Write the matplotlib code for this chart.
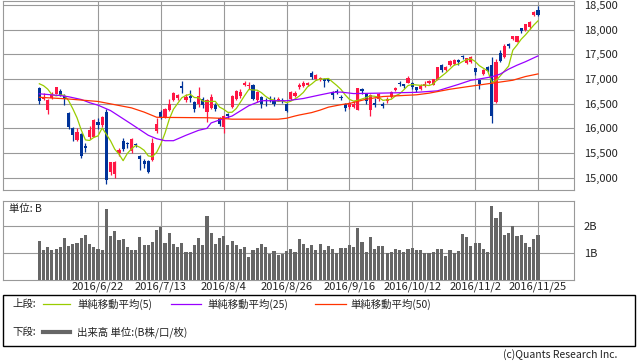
import numpy as np
import pandas as pd
from matplotlib import pyplot as plt
from matplotlib.lines import Line2D
from matplotlib.patches import Rectangle
from matplotlib.ticker import FuncFormatter

plt.rcParams['font.family'] = ['Noto Sans CJK JP', 'DejaVu Sans']

# trading days 2016/6/2 .. 2016/11/25 (120 sessions)
date_pos = [14, 29, 44, 59, 74, 89, 104, 119]
date_labels = ['2016/6/22', '2016/7/13', '2016/8/4', '2016/8/26',
               '2016/9/16', '2016/10/12', '2016/11/2', '2016/11/25']

opens = [16810, 16600, 16380, 16620, 16700, 16760, 16660, 16320, 16000, 15760,
         15880, 15640, 15815, 15830, 16130, 16070, 16340, 15120, 15080, 15505,
         15750, 15700, 15540, 15690, 15440, 15340, 15330, 15350, 15940, 16340,
         16220, 16380, 16580, 16610, 16860, 16570, 16660, 16540, 16500, 16600,
         16340, 16420, 16480, 16210, 16030, 16290, 16440, 16590, 16650, 16875,
         16850, 16880, 16580, 16640, 16580, 16610, 16545, 16580, 16580, 16490,
         16600, 16660, 16835, 16860, 16880, 17130, 17000, 16990, 17000, 17000,
         16740, 16760, 16640, 16500, 16440, 16440, 16380, 16790, 16700, 16380,
         16520, 16600, 16500, 16545, 16630, 16770, 16910, 16890, 16920, 16910,
         16830, 16790, 16850, 16910, 16880, 16990, 17280, 17190, 17275, 17310,
         17380, 17455, 17330, 17335, 17218, 16970, 17100, 17250, 17280, 16540,
         17520, 17440, 17700, 17810, 17760, 18030, 17995, 18060, 18300, 18400]
highs = [16840, 16720, 16590, 16730, 16840, 16800, 16690, 16340, 16020, 16000,
         15900, 15700, 16040, 16190, 16200, 16260, 16390, 15320, 15340, 15600,
         15800, 15720, 15800, 15710, 15460, 15380, 15350, 15810, 16210, 16380,
         16420, 16600, 16730, 16700, 16950, 16700, 16780, 16560, 16830, 16640,
         16600, 16700, 16520, 16230, 16270, 16320, 16670, 16780, 16790, 16950,
         16930, 16890, 16760, 16660, 16620, 16650, 16640, 16630, 16620, 16510,
         16760, 16750, 16920, 16950, 16940, 17160, 17100, 17040, 17020, 17020,
         16760, 16790, 16670, 16510, 16540, 16560, 16820, 16820, 16720, 16700,
         16620, 16720, 16540, 16630, 16760, 16840, 16950, 16900, 17060, 16940,
         16840, 16900, 16950, 16990, 17010, 17250, 17300, 17260, 17390, 17400,
         17400, 17480, 17430, 17460, 17230, 17000, 17200, 17270, 17440, 17400,
         17590, 17700, 17730, 17880, 17880, 18040, 18120, 18170, 18380, 18480]
lows = [16500, 16570, 16300, 16600, 16690, 16660, 16480, 15990, 15740, 15740,
        15400, 15530, 15780, 15820, 15990, 16030, 14864, 15050, 15000, 15440,
        15540, 15600, 15510, 15620, 15160, 15200, 15090, 15330, 15900, 16180,
        16200, 16360, 16560, 16580, 16720, 16540, 16540, 16340, 16440, 16420,
        16130, 16400, 16350, 16050, 15900, 16200, 16420, 16580, 16620, 16860,
        16800, 16570, 16540, 16420, 16460, 16540, 16450, 16550, 16520, 16330,
        16580, 16640, 16800, 16840, 16860, 17010, 16980, 16960, 16840, 16940,
        16600, 16690, 16580, 16350, 16400, 16420, 16370, 16700, 16500, 16260,
        16440, 16560, 16410, 16520, 16610, 16750, 16860, 16810, 16910, 16800,
        16740, 16780, 16840, 16890, 16870, 16980, 17150, 17170, 17260, 17290,
        17280, 17410, 17310, 17320, 17090, 16790, 17080, 17140, 16111, 16520,
        17340, 17420, 17620, 17790, 17740, 17940, 17980, 18020, 18280, 18270]
closes = [16562, 16642, 16580, 16675, 16830, 16668, 16601, 16019, 15859, 15919,
          15434, 15600, 15965, 16169, 16065, 16238, 14952, 15309, 15323, 15566,
          15576, 15682, 15776, 15669, 15379, 15276, 15107, 15709, 16096, 16231,
          16386, 16498, 16723, 16682, 16810, 16627, 16620, 16383, 16665, 16477,
          16569, 16636, 16391, 16083, 16254, 16255, 16651, 16765, 16735, 16920,
          16870, 16597, 16746, 16486, 16546, 16598, 16497, 16597, 16556, 16361,
          16737, 16725, 16887, 16927, 16926, 17038, 17082, 17012, 16959, 16966,
          16673, 16729, 16614, 16405, 16519, 16492, 16808, 16754, 16545, 16684,
          16465, 16694, 16450, 16599, 16736, 16819, 16899, 16860, 17025, 16840,
          16774, 16856, 16900, 16964, 16999, 17236, 17185, 17234, 17365, 17392,
          17336, 17446, 17425, 17442, 17135, 16905, 17177, 17171, 16251, 17344,
          17375, 17673, 17668, 17862, 17863, 17967, 18106, 18163, 18365, 18290]
prior_closes = [16834, 16931, 17235, 16956]

# volume in billions of shares
volume = [1.46, 1.11, 1.23, 1.11, 1.15, 1.21, 1.56, 1.27, 1.33, 1.38,
          1.57, 1.67, 1.33, 1.23, 1.15, 1.12, 2.63, 1.63, 1.81, 1.48,
          1.52, 1.23, 1.11, 1.11, 1.59, 1.30, 1.30, 1.41, 1.85, 1.98,
          1.37, 1.74, 1.33, 1.23, 1.37, 1.04, 1.04, 1.30, 1.56, 1.30,
          2.37, 1.74, 1.33, 1.56, 1.63, 1.30, 1.44, 1.30, 1.15, 1.22,
          0.85, 1.11, 1.19, 1.33, 1.22, 0.96, 1.07, 0.94, 0.96, 1.07,
          1.15, 1.04, 1.52, 1.33, 1.19, 1.30, 1.11, 1.33, 1.11, 1.26,
          1.15, 1.00, 1.19, 1.19, 1.30, 1.22, 1.93, 1.41, 1.04, 1.59,
          1.15, 1.26, 1.26, 1.00, 1.04, 1.15, 1.11, 1.04, 1.15, 1.19,
          1.11, 1.11, 1.00, 1.00, 1.04, 1.15, 1.15, 0.89, 1.11, 1.00,
          1.07, 1.70, 1.59, 1.26, 1.37, 1.37, 1.15, 1.04, 2.74, 2.30,
          2.52, 1.67, 1.74, 2.00, 1.63, 1.67, 1.37, 1.22, 1.52, 1.67]

# moving averages (session index, value)
ma25_idx = [0, 5, 7, 10, 12, 14, 17, 19, 22, 26, 28, 30, 32, 35, 38, 40, 41, 44,
            46, 50, 53, 59, 63, 67, 70, 72, 75, 82, 90, 95, 100, 103, 105, 108,
            110, 112, 114, 116, 119]
ma25_val = [16700, 16665, 16640, 16585, 16520, 16470, 16360, 16250, 16085, 15860,
            15790, 15750, 15750, 15860, 15960, 16000, 16110, 16200, 16250, 16460,
            16560, 16560, 16605, 16678, 16730, 16735, 16705, 16715, 16730, 16760,
            16890, 16975, 17000, 17045, 17100, 17200, 17280, 17350, 17468]
ma50_idx = [0, 7, 14, 18, 22, 25, 28, 30, 40, 43, 46, 57, 59, 61, 62, 65, 67, 69,
            72, 74, 78, 82, 90, 93, 98, 103, 108, 113, 116, 119]
ma50_val = [16630, 16595, 16545, 16480, 16415, 16330, 16225, 16222, 16215, 16205,
            16186, 16186, 16205, 16250, 16270, 16320, 16370, 16430, 16480, 16505,
            16590, 16645, 16680, 16713, 16793, 16855, 16915, 16975, 17050, 17103]

W, H = 638, 362
fig = plt.figure(figsize=(W / 100, H / 100), dpi=100)


def box(l, t, r, b):
    return [l / W, 1 - b / H, (r - l) / W, (b - t) / H]


grid_c = '#999999'
txt_c = '#222222'
up_c, dn_c = '#ff1744', '#003399'
xlim = (-8.6, 127.6)

ax = fig.add_axes(box(3.3, 0.7, 574, 190))
axv = fig.add_axes(box(3.3, 201, 574, 280))

o = np.array(opens)
c = np.array(closes)
x = np.arange(len(c))
cols = np.where(c >= o, up_c, dn_c)

ax.vlines(x, lows, highs, colors=cols, lw=0.9, zorder=3)
body = np.maximum(np.abs(c - o), 15)
ax.bar(x, body, bottom=np.minimum(o, c), width=0.75, color=cols, lw=0, zorder=3)

ma5 = pd.Series(prior_closes + closes).rolling(5).mean().to_numpy()[4:]
ax.plot(x, ma5, color='#99cc00', lw=0.9, zorder=4)
ax.plot(ma25_idx, ma25_val, color='#9900ff', lw=0.9, zorder=4)
ax.plot(ma50_idx, ma50_val, color='#ff3300', lw=0.9, zorder=4)

ax.set_xlim(*xlim)
ax.set_ylim(14751, 18587)
ax.set_yticks(range(15000, 18501, 500))
ax.yaxis.set_major_formatter(FuncFormatter(lambda v, p: f'{int(v):,}'))
ax.yaxis.tick_right()
ax.set_xticks(date_pos)
ax.set_xticklabels([])
ax.tick_params(length=0, labelsize=8, pad=7, colors=txt_c)
ax.grid(color=grid_c, lw=0.8)
ax.set_axisbelow(True)

axv.bar(x, volume, width=0.75, color='#666666', lw=0, zorder=3)
axv.set_xlim(*xlim)
axv.set_ylim(0, 2.93)
axv.set_yticks([1, 2])
axv.set_yticklabels(['1B', '2B'])
axv.yaxis.tick_right()
axv.set_xticks(date_pos)
axv.set_xticklabels(date_labels)
axv.tick_params(length=0, labelsize=8, colors=txt_c)
axv.tick_params(axis='y', pad=7)
axv.tick_params(axis='x', pad=1)
axv.grid(color=grid_c, lw=0.8)
axv.set_axisbelow(True)
axv.text(0.01, 0.96, '単位: B', transform=axv.transAxes, fontsize=7.5,
         va='top', ha='left', color=txt_c)

for a in (ax, axv):
    for s in a.spines.values():
        s.set_color(grid_c)
        s.set_linewidth(0.8)

# legend box
fig.add_artist(Rectangle((3 / W, 1 - 346 / H), 632 / W, 51 / H, transform=fig.transFigure,
                         fill=False, edgecolor='black', lw=1))


def fline(x0, x1, y, color, lw):
    fig.add_artist(Line2D([x0 / W, x1 / W], [1 - y / H, 1 - y / H],
                          transform=fig.transFigure, color=color, lw=lw))


def ftext(xp, yp, s, ha='left'):
    fig.text(xp / W, 1 - yp / H, s, fontsize=7.5, ha=ha, va='center', color=txt_c)


ftext(12, 304, '上段:')
fline(43, 70, 304, '#99cc00', 0.9)
ftext(77, 304, '単純移動平均(5)')
fline(171, 201, 304, '#9900ff', 0.9)
ftext(207, 304, '単純移動平均(25)')
fline(315, 346, 304, '#ff3300', 0.9)
ftext(350, 304, '単純移動平均(50)')
ftext(12, 332, '下段:')
fline(43, 70, 332, '#666666', 3)
ftext(77, 332, '出来高 単位:(B株/口/枚)')
ftext(617, 355, '(c)Quants Research Inc.', ha='right')

fig.savefig('out.png', dpi=100)
